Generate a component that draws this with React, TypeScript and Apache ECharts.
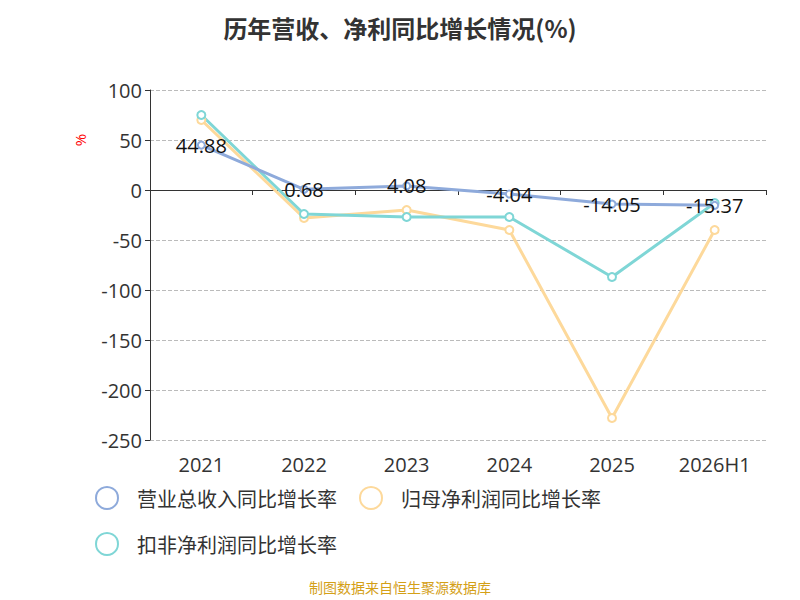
import React, { useEffect, useRef } from "react";
import * as echarts from "echarts";

const categories = ["2021", "2022", "2023", "2024", "2025", "2026H1"];
const revenueGrowth = [44.88, 0.68, 4.08, -4.04, -14.05, -15.37];
const netProfitGrowth = [70, -28, -20, -40, -228, -40];
const deductedProfitGrowth = [75, -24, -27, -27, -87, -13];
const yTicks = { min: -250, max: 100, interval: 50 };

export default function App() {
  const ref = useRef<HTMLDivElement>(null);
  useEffect(() => {
    const chart = echarts.init(ref.current!, null, { renderer: "svg" });
    const font = "'Open Sans', 'Noto Sans CJK SC', sans-serif";
    chart.setOption({
      animation: false,
      textStyle: { fontFamily: font },
      title: {
        text: "历年营收、净利同比增长情况(%)",
        left: "center",
        top: 2,
        textStyle: { fontSize: 24, fontWeight: "bold", color: "#333", fontFamily: "'Noto Sans CJK SC', sans-serif" },
      },
      grid: { left: 142, right: 26, top: 82, bottom: 160 },
      legend: {
        left: 82,
        top: 473,
        width: 680,
        itemWidth: 50,
        itemHeight: 22,
        itemGap: 22,
        icon: "emptyCircle",
        textStyle: { fontSize: 20, color: "#333", fontFamily: "'Noto Sans CJK SC', sans-serif" },
        data: ["营业总收入同比增长率", "归母净利润同比增长率", "扣非净利润同比增长率"],
      },
      xAxis: [
        {
          type: "category",
          data: categories,
          axisLine: { show: false, onZero: false },
          axisTick: { show: false },
          axisLabel: { fontSize: 20, color: "#333", margin: 14 },
        },
        {
          type: "category",
          data: categories,
          position: "bottom",
          axisLine: { onZero: true, lineStyle: { color: "#333" } },
          axisTick: { show: true, lineStyle: { color: "#333" } },
          axisLabel: { show: false },
        },
      ],
      yAxis: {
        type: "value",
        min: yTicks.min,
        max: yTicks.max,
        interval: yTicks.interval,
        axisLine: { show: true, lineStyle: { color: "#333" } },
        axisTick: { show: true },
        axisLabel: { fontSize: 20, color: "#333" },
        splitLine: { lineStyle: { type: "dashed", color: "#bbb" } },
      },
      series: [
        {
          name: "营业总收入同比增长率",
          type: "line",
          data: revenueGrowth,
          symbol: "emptyCircle",
          symbolSize: 7,
          itemStyle: { color: "#8eaadb" },
          lineStyle: { width: 3, color: "#8eaadb" },
          label: { show: true, position: "inside", fontSize: 20, color: "#111" },
          z: 3,
        },
        {
          name: "归母净利润同比增长率",
          type: "line",
          data: netProfitGrowth,
          symbol: "emptyCircle",
          symbolSize: 8,
          itemStyle: { color: "#fdd99b" },
          lineStyle: { width: 3, color: "#fdd99b" },
          z: 2,
        },
        {
          name: "扣非净利润同比增长率",
          type: "line",
          data: deductedProfitGrowth,
          symbol: "emptyCircle",
          symbolSize: 8,
          itemStyle: { color: "#7fd6d6" },
          lineStyle: { width: 3, color: "#7fd6d6" },
          z: 2,
        },
      ],
      graphic: [
        {
          type: "text",
          x: 72,
          y: 132,
          rotation: Math.PI / 2,
          style: { text: "%", fill: "red", fontSize: 15, fontFamily: font, align: "center", verticalAlign: "middle" },
        },
        {
          type: "text",
          left: "center",
          top: 572,
          style: { text: "制图数据来自恒生聚源数据库", fill: "#d4a017", fontSize: 14, fontFamily: "'Noto Sans CJK SC', sans-serif" },
        },
      ],
    });
    return () => chart.dispose();
  }, []);
  return <div ref={ref} style={{ width: 784, height: 592 }} />;
}
